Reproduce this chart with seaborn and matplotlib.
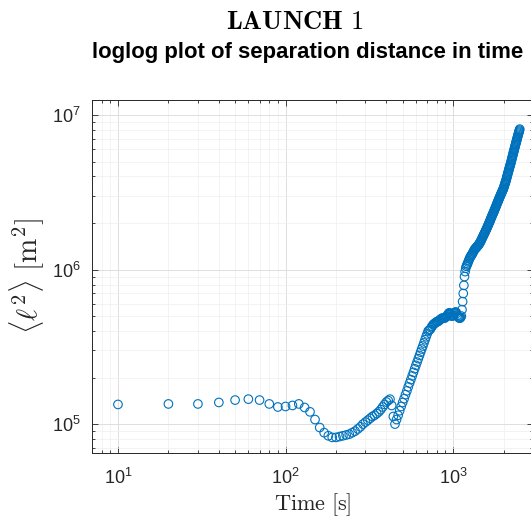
import numpy as np
import matplotlib
matplotlib.use("Agg")
import matplotlib.pyplot as plt
import seaborn as sns
from matplotlib.ticker import LogLocator, NullFormatter

##################
# Data
##################

# one sample every 10 s
time_s = np.arange(10, 2510, 10)

# <l^2> in units of 1e5 m^2
l2_e5 = [
    1.34, 1.35, 1.35, 1.38, 1.43, 1.45, 1.43, 1.35, 1.29, 1.30,
    1.32, 1.35, 1.28, 1.20, 1.07, 0.95, 0.88, 0.84, 0.82, 0.82,
    0.83, 0.84, 0.85, 0.86, 0.88, 0.90, 0.93, 0.96, 1.00, 1.03,
    1.06, 1.09, 1.12, 1.14, 1.17, 1.20, 1.24, 1.29, 1.34, 1.39,
    1.42, 1.45, 1.32, 1.12, 1.00, 1.07, 1.14, 1.22, 1.30, 1.38,
    1.46, 1.55, 1.64, 1.74, 1.84, 1.94, 2.05, 2.16, 2.28, 2.40,
    2.52, 2.65, 2.78, 2.92, 3.06, 3.20, 3.35, 3.51, 3.67, 3.83,
    4.00, 4.05, 4.10, 4.20, 4.30, 4.40, 4.45, 4.50, 4.55, 4.60,
    4.60, 4.65, 4.70, 4.75, 4.80, 4.85, 4.85, 4.85, 4.85, 4.90,
    4.95, 5.00, 5.10, 5.20, 5.25, 5.20, 5.10, 5.00, 5.00, 5.05,
    5.15, 5.25, 5.30, 5.30, 5.20, 5.05, 4.95, 4.90, 4.85, 4.85,
    4.90, 5.00, 5.50, 6.20, 7.00, 7.90, 9.00, 9.70, 10.2, 10.5,
    10.7, 10.9, 11.2, 11.4, 11.7, 11.9, 12.1, 12.3, 12.4, 12.6,
    12.8, 13.0, 13.2, 13.4, 13.6, 13.7, 13.8, 13.9, 14.1, 14.2,
    14.3, 14.5, 14.6, 14.8, 15.0, 15.2, 15.4, 15.7, 15.9, 16.2,
    16.4, 16.7, 16.9, 17.2, 17.4, 17.7, 18.0, 18.2, 18.5, 18.8,
    19.1, 19.4, 19.7, 20.0, 20.3, 20.6, 21.0, 21.3, 21.7, 22.0,
    22.3, 22.7, 23.0, 23.3, 23.7, 24.0, 24.4, 24.8, 25.1, 25.5,
    25.9, 26.3, 26.7, 27.1, 27.5, 27.9, 28.3, 28.7, 29.1, 29.5,
    29.9, 30.3, 30.7, 31.1, 31.5, 31.9, 32.3, 32.7, 33.1, 33.5,
    34.1, 34.7, 35.3, 35.9, 36.5, 37.1, 37.7, 38.4, 39.2, 40.0,
    40.8, 41.6, 42.4, 43.2, 44.0, 44.8, 45.6, 46.4, 47.2, 48.0,
    48.9, 49.8, 50.8, 51.8, 52.8, 53.8, 54.8, 55.9, 57.0, 58.0,
    59.0, 60.1, 61.2, 62.3, 63.4, 64.5, 65.6, 66.7, 67.8, 69.0,
    70.2, 71.4, 72.6, 73.8, 75.0, 76.2, 77.4, 78.6, 79.8, 81.0,
]
l2 = np.array(l2_e5) * 1e5
assert len(l2) == len(time_s)

##################
# Style (matlab-ish)
##################

sns.set_theme(style="ticks")
plt.rcParams["font.family"] = ["Liberation Sans", "DejaVu Sans"]
plt.rcParams["mathtext.fontset"] = "custom"
plt.rcParams["mathtext.rm"] = "Liberation Sans"
plt.rcParams["mathtext.it"] = "Liberation Sans:italic"
plt.rcParams["mathtext.bf"] = "Liberation Sans:bold"

fig = plt.figure(figsize=(5.31, 5.22), dpi=100)
ax = fig.add_axes([0.1733, 0.1322, 0.8305, 0.6762])

sns.scatterplot(x=time_s, y=l2, ax=ax, marker="o", s=38,
                facecolor="none", edgecolor="#0072BD", linewidth=0.8)

ax.set_xscale("log")
ax.set_yscale("log")
ax.set_xlim(7, 3000)
ax.set_ylim(6.5e4, 1.25e7)

for axis in (ax.xaxis, ax.yaxis):
    axis.set_major_locator(LogLocator(base=10))
    axis.set_minor_locator(LogLocator(base=10, subs=np.arange(2, 10)))
    axis.set_minor_formatter(NullFormatter())

ax.grid(which="major", color="#dedede", linewidth=0.7)
ax.grid(which="minor", color="#efefef", linewidth=0.5)
ax.set_axisbelow(True)

for sp in ax.spines.values():
    sp.set_color("#262626")
    sp.set_linewidth(0.7)

ax.tick_params(which="both", direction="in", top=True, right=True,
               color="#262626", width=0.6, labelcolor="#262626")
ax.tick_params(which="major", length=4.5, labelsize=13)
ax.tick_params(which="minor", length=2.5)
ax.tick_params(axis="x", pad=11)
ax.tick_params(axis="y", pad=8)

ax.set_xlabel(r"$\mathrm{Time\ [s]}$", fontsize=16, color="#262626",
              math_fontfamily="cm", labelpad=2)
ax.set_ylabel(r"$\langle \ell^2 \rangle\ [\mathrm{m}^2]$", fontsize=21,
              color="#262626", math_fontfamily="cm", labelpad=4)

# titles (subtitle slightly left of the clipped axes centre)
fig.text(0.580, 0.900, "loglog plot of separation distance in time",
         fontsize=15.9, fontweight="bold", color="black",
         ha="center", va="center")
fig.text(0.555, 0.957, r"$\mathbf{LAUNCH\ 1}$", fontsize=19,
         math_fontfamily="cm", ha="center", va="center", color="black")

fig.savefig("out.png", dpi=100)
